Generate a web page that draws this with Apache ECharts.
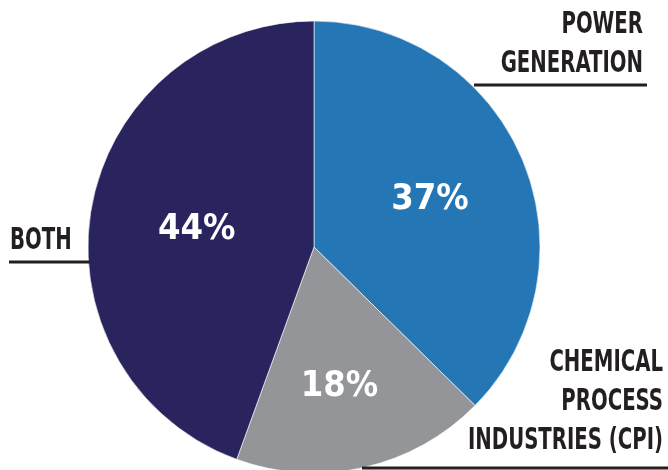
<!DOCTYPE html>
<html><head><meta charset="utf-8">
<script src="https://cdn.jsdelivr.net/npm/echarts@6/dist/echarts.min.js"></script>
<style>html,body{margin:0;padding:0;background:#fff}#c{width:668px;height:470px}</style>
</head><body><div id="c"></div>
<script>
const categories = ['POWER\nGENERATION', 'CHEMICAL\nPROCESS\nINDUSTRIES (CPI)', 'BOTH'];
const values = [37, 18, 44];
const colors = ['#2576b4', '#939598', '#2a245e'];
const pctLabels = ['37%', '18%', '44%'];

const FONT = '"DejaVu Sans Condensed", "Liberation Sans Narrow", sans-serif';
const chart = echarts.init(document.getElementById('c'));
const data = categories.map((n, i) => ({
  name: n, value: values[i], itemStyle: { color: colors[i] },
  label: { formatter: pctLabels[i], offset: i === 1 ? [0, 26] : (i === 0 ? [9, -3] : [-3, 3]) }
}));
const txt = (t, x, y, align) => ({
  type: 'text', x, y, z: 100, scaleX: 0.73,
  style: { text: t, fill: '#231f20', font: 'bold 30px ' + FONT, align, verticalAlign: 'middle' }
});
const line = (x1, y1, x2) => ({
  type: 'line', z: 100, shape: { x1, y1, x2, y2: y1 }, style: { stroke: '#231f20', lineWidth: 3 }
});
chart.setOption({
  animation: false,
  series: [{
    type: 'pie', center: [314, 247], radius: [0, 226], startAngle: 90, clockwise: true,
    itemStyle: { borderColor: 'rgba(255,255,255,0.6)', borderWidth: 1 },
    label: { position: 'inside', color: '#fff', fontFamily: FONT, fontWeight: 'bold', fontSize: 36 },
    labelLine: { show: false },
    data
  }],
  graphic: [
    line(474, 85, 647),
    line(9, 262, 90),
    line(362, 468, 668),
    txt('POWER', 643, 25, 'right'),
    txt('GENERATION', 643, 64, 'right'),
    txt('BOTH', 10, 241, 'left'),
    txt('CHEMICAL', 663, 363, 'right'),
    txt('PROCESS', 663, 402, 'right'),
    txt('INDUSTRIES (CPI)', 663, 441, 'right')
  ]
});
</script></body></html>
